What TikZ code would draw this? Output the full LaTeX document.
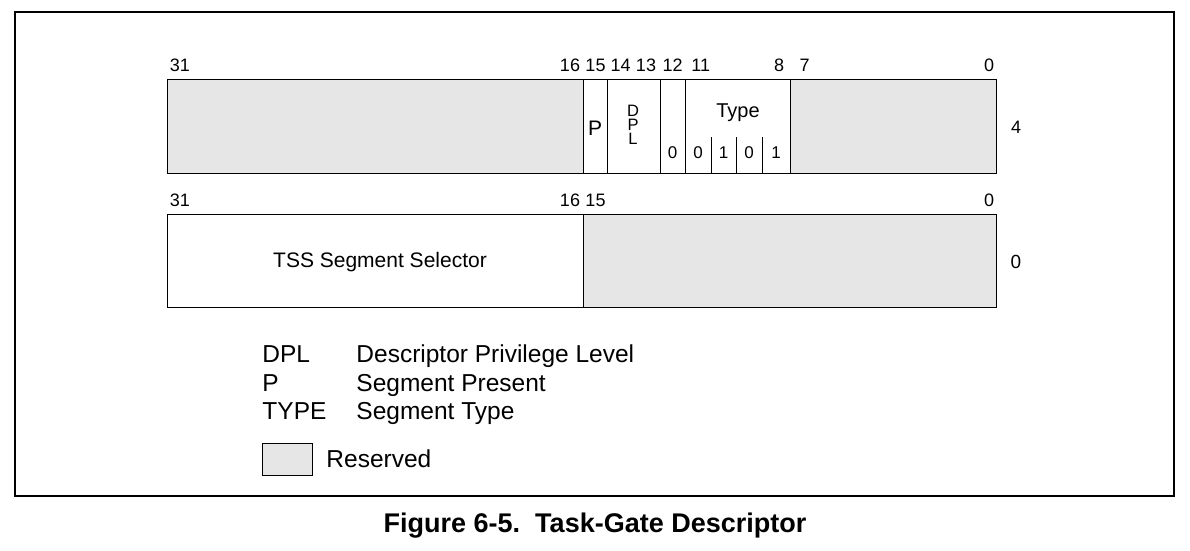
\documentclass[tikz,border=0pt]{standalone}
\usepackage{fontspec}
\setmainfont{Liberation Sans}
\definecolor{rsvd}{RGB}{230,230,230}
\tikzset{every picture/.style={line width=0.9pt}}

\begin{document}
\begin{tikzpicture}[x=1pt,y=1pt,yscale=-1,xscale=1,
  bitno/.style={font=\fontsize{18}{20}\selectfont, inner sep=0pt, anchor=base},
  fld/.style={font=\fontsize{21}{24}\selectfont, inner sep=0pt, anchor=base},
  fldsm/.style={font=\fontsize{17}{19}\selectfont, inner sep=0pt, anchor=base},
  lgd/.style={font=\fontsize{24.5}{28}\selectfont, inner sep=0pt, anchor=base west},
  ttl/.style={font=\bfseries\fontsize{27}{30}\selectfont, inner sep=0pt, anchor=base}]
\useasboundingbox (0,0) rectangle (1190,550);

% outer frame
\draw [line width=1.2pt] (15,12) rectangle (1174,496);

% descriptor word at offset 4
\draw [fill=rsvd] (167,79) rectangle (583,173);
\draw [fill=rsvd] (790,79) rectangle (996,173);
\draw (583,79) rectangle (790,173);
\draw (607,79) -- (607,173);
\draw (660,79) -- (660,173);
\draw (685,79) -- (685,173);
\draw (711,137) -- (711,173);
\draw (736,137) -- (736,173);
\draw (762,137) -- (762,173);

\draw (180,71) node [bitno] (hb31) {31};
\draw (570,71) node [bitno] (hb16) {16};
\draw (595.5,71) node [bitno] (hb15) {15};
\draw (620.7,71) node [bitno] (hb14) {14};
\draw (646,71) node [bitno] (hb13) {13};
\draw (672.5,71) node [bitno] (hb12) {12};
\draw (700.7,71) node [bitno] (hb11) {11};
\draw (779,71) node [bitno] (hb8) {8};
\draw (804.5,71) node [bitno] (hb7) {7};
\draw (989,71) node [bitno] (hb0) {0};

\draw (595,135) node [fld] (pflag) {P};
\draw (633,144) node [font=\fontsize{16.5}{14}\selectfont, inner sep=0pt, anchor=base, align=center] (dpl) {D\\P\\L};
\draw (672.5,158) node [fldsm] (bit12) {0};
\draw (738,117) node [font=\fontsize{20}{22}\selectfont, inner sep=0pt, anchor=base] (typelbl) {Type};
\draw (698,158) node [fldsm] (bit11) {0};
\draw (723.5,158) node [fldsm] (bit10) {1};
\draw (749,158) node [fldsm] (bit9) {0};
\draw (776,158) node [fldsm] (bit8) {1};

\draw (1016,133) node [bitno] (off4) {4};

% descriptor word at offset 0
\draw (167,214) rectangle (583,307);
\draw [fill=rsvd] (583,214) rectangle (996,307);

\draw (180,206) node [bitno] (lb31) {31};
\draw (570,206) node [bitno] (lb16) {16};
\draw (595.5,206) node [bitno] (lb15) {15};
\draw (989,206) node [bitno] (lb0) {0};

\draw (380,267) node [fld] (tsssel) {TSS Segment Selector};
\draw (1016,268) node [font=\fontsize{19}{21}\selectfont, inner sep=0pt, anchor=base] (off0) {0};

% legend
\draw (262,362) node [lgd] (kdpl) {DPL};
\draw (356,362) node [lgd] (vdpl) {Descriptor Privilege Level};
\draw (262,391) node [lgd] (kp) {P};
\draw (356,391) node [lgd] (vp) {Segment Present};
\draw (262,419) node [lgd] (ktype) {TYPE};
\draw (356,419) node [lgd] (vtype) {Segment Type};
\draw [fill=rsvd] (262,443) rectangle (312.5,475.5);
\draw (326,467) node [lgd] (vrsvd) {Reserved};

\draw (595,532) node [ttl] (caption) {Figure 6-5.\ \ Task-Gate Descriptor};

\end{tikzpicture}
\end{document}
